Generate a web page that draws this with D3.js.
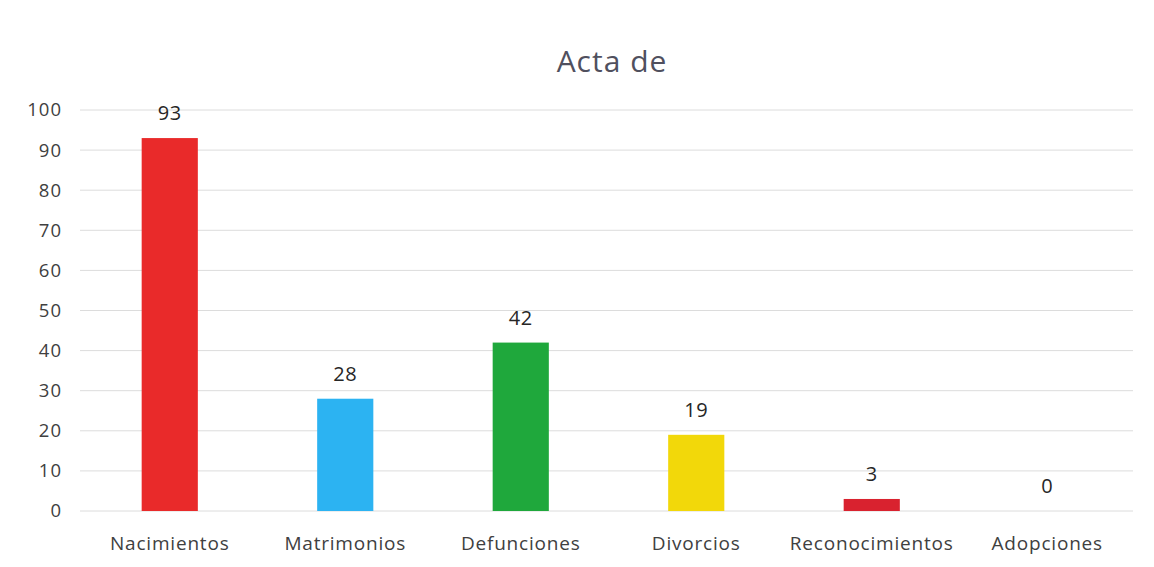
<!DOCTYPE html>
<html>
<head>
<meta charset="utf-8">
<script src="https://cdn.jsdelivr.net/npm/d3@7"></script>
<style>
  html, body { margin: 0; padding: 0; background: #ffffff; }
  svg { display: block; }
</style>
</head>
<body>
<svg id="chart" width="1154" height="567"></svg>
<script>
// Actas registradas por tipo
const categories = ["Nacimientos", "Matrimonios", "Defunciones", "Divorcios", "Reconocimientos", "Adopciones"];
const values = [93, 28, 42, 19, 3, 0];
const barColors = ["#e92a2a", "#2cb3f2", "#1fa83c", "#f2d80a", "#d9222f", "#d9222f"];
const yTicks = [0, 10, 20, 30, 40, 50, 60, 70, 80, 90, 100];
const title = "Acta de";

const svg = d3.select("#chart");
const font = "'Open Sans', 'Noto Sans', sans-serif";

const x = d3.scaleBand()
  .domain(categories)
  .range([82, 1135])
  .paddingInner(0.68)
  .paddingOuter(0.34);

const y = d3.scaleLinear()
  .domain([0, 100])
  .range([511, 110]);

// horizontal gridlines
svg.append("g")
  .selectAll("line")
  .data(yTicks)
  .join("line")
  .attr("x1", 80)
  .attr("x2", 1133)
  .attr("y1", d => y(d))
  .attr("y2", d => y(d))
  .attr("stroke", "#dcdcdc")
  .attr("stroke-width", 1);

// y axis labels
const yAxis = d3.axisLeft(y).tickValues(yTicks).tickSize(0).tickPadding(0);
const yg = svg.append("g")
  .attr("transform", "translate(62,0)")
  .call(yAxis);
yg.select(".domain").remove();
yg.selectAll("text")
  .attr("font-family", font)
  .attr("font-size", 18.5)
  .attr("letter-spacing", 1)
  .attr("fill", "#404040");

// x axis labels
const xAxis = d3.axisBottom(x).tickSize(0).tickPadding(0);
const xg = svg.append("g")
  .attr("transform", "translate(0,536)")
  .call(xAxis);
xg.select(".domain").remove();
xg.selectAll("text")
  .attr("font-family", font)
  .attr("font-size", 19)
  .attr("letter-spacing", 0.8)
  .attr("fill", "#404040");

// bars
svg.append("g")
  .selectAll("rect")
  .data(categories)
  .join("rect")
  .attr("x", d => x(d))
  .attr("width", x.bandwidth())
  .attr("y", (d, i) => y(values[i]))
  .attr("height", (d, i) => y(0) - y(values[i]))
  .attr("fill", (d, i) => barColors[i]);

// value labels
svg.append("g")
  .selectAll("text")
  .data(categories)
  .join("text")
  .attr("x", d => x(d) + x.bandwidth() / 2)
  .attr("y", (d, i) => y(values[i]) - 18)
  .attr("text-anchor", "middle")
  .attr("font-family", font)
  .attr("font-size", 20)
  .attr("letter-spacing", 0.5)
  .attr("fill", "#262626")
  .text((d, i) => values[i]);

// title
svg.append("text")
  .attr("x", 612)
  .attr("y", 72)
  .attr("text-anchor", "middle")
  .attr("font-family", font)
  .attr("font-size", 30)
  .attr("letter-spacing", 1)
  .attr("fill", "#50505e")
  .text(title);
</script>
</body>
</html>
